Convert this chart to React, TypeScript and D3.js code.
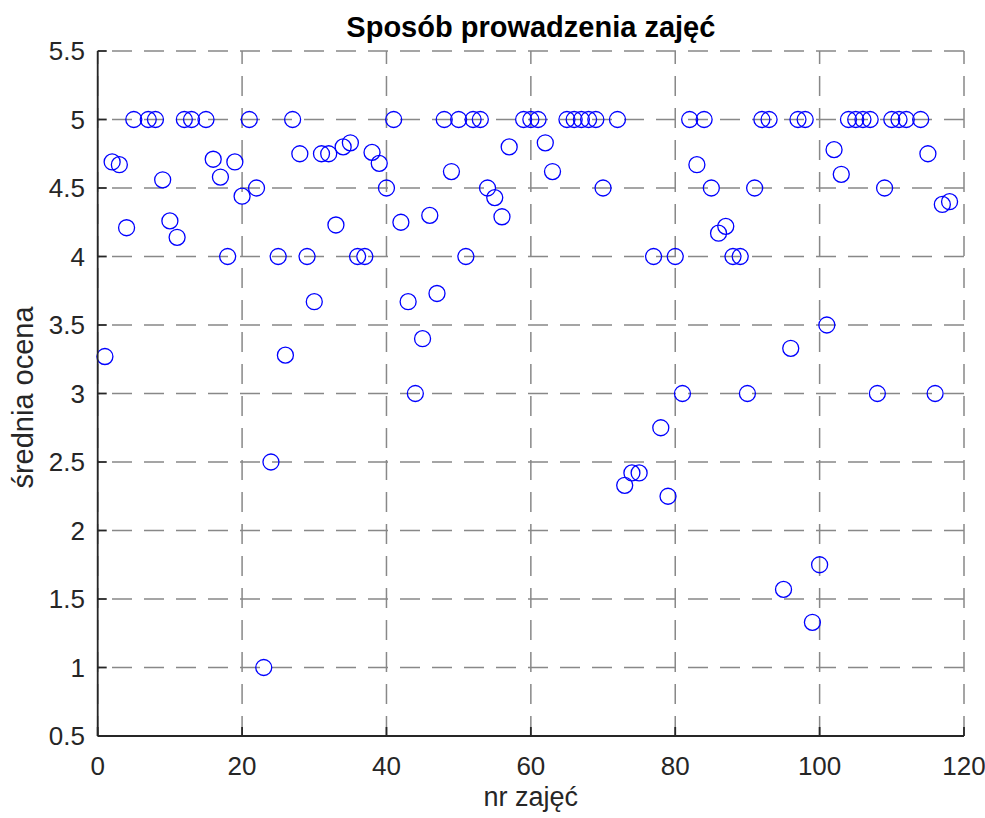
import React from "react";
import * as d3 from "d3";

const lessonNumbers: number[] = [
  1, 2, 3, 4, 5, 7, 8, 9, 10, 11, 12, 13, 15, 16, 17, 18, 19, 20,
  21, 22, 23, 24, 25, 26, 27, 28, 29, 30, 31, 32, 33, 34, 35, 36, 37, 38, 39, 40,
  41, 42, 43, 44, 45, 46, 47, 48, 49, 50, 51, 52, 53, 54, 55, 56, 57, 59, 60,
  61, 62, 63, 65, 66, 67, 68, 69, 70, 72, 73, 74, 75, 77, 78, 79, 80,
  81, 82, 83, 84, 85, 86, 87, 88, 89, 90, 91, 92, 93, 95, 96, 97, 98, 99, 100,
  101, 102, 103, 104, 105, 106, 107, 108, 109, 110, 111, 112, 114, 115, 116, 117, 118,
];

const averageScores: number[] = [
  3.27, 4.69, 4.67, 4.21, 5, 5, 5, 4.56, 4.26, 4.14, 5, 5, 5, 4.71, 4.58, 4.0, 4.69, 4.44,
  5, 4.5, 1.0, 2.5, 4.0, 3.28, 5, 4.75, 4.0, 3.67, 4.75, 4.75, 4.23, 4.8, 4.83, 4.0, 4.0, 4.76, 4.68, 4.5,
  5, 4.25, 3.67, 3.0, 3.4, 4.3, 3.73, 5, 4.62, 5, 4.0, 5, 5, 4.5, 4.43, 4.29, 4.8, 5, 5,
  5, 4.83, 4.62, 5, 5, 5, 5, 5, 4.5, 5, 2.33, 2.42, 2.42, 4.0, 2.75, 2.25, 4.0,
  3.0, 5, 4.67, 5, 4.5, 4.17, 4.22, 4.0, 4.0, 3.0, 4.5, 5, 5, 1.57, 3.33, 5, 5, 1.33, 1.75,
  3.5, 4.78, 4.6, 5, 5, 5, 5, 3.0, 4.5, 5, 5, 5, 5, 4.75, 3.0, 4.38, 4.4,
];

const xTicks: number[] = [0, 20, 40, 60, 80, 100, 120];
const yTicks: number[] = [0.5, 1, 1.5, 2, 2.5, 3, 3.5, 4, 4.5, 5, 5.5];

const titleText = "Sposób prowadzenia zajęć";
const xLabel = "nr zajęć";
const yLabel = "średnia ocena";

const W = 985;
const H = 818;
const left = 97.7;
const right = 964;
const top = 51;
const bottom = 736;

export default function App() {
  const x = d3.scaleLinear().domain([0, 120]).range([left, right]);
  const y = d3.scaleLinear().domain([0.5, 5.5]).range([bottom, top]);
  const axisColor = "#262626";
  const gridColor = "#888888";
  const font = "'Liberation Sans', Arial, Helvetica, sans-serif";
  const fmt = (v: number) => String(v);

  return (
    <svg
      width={W}
      height={H}
      style={{ position: "absolute", left: 0, top: 0, background: "#fff" }}
      fontFamily={font}
    >
      <rect x={0} y={0} width={W} height={H} fill="#fff" />
      {yTicks.map((t) => (
        <line
          key={"gy" + t}
          x1={right}
          x2={left}
          y1={y(t)}
          y2={y(t)}
          stroke={gridColor}
          strokeWidth={1.5}
          strokeDasharray="20 12"
        />
      ))}
      {xTicks.map((t) => (
        <line
          key={"gx" + t}
          x1={x(t)}
          x2={x(t)}
          y1={bottom}
          y2={top}
          stroke={gridColor}
          strokeWidth={1.5}
          strokeDasharray="20 12"
        />
      ))}
      {lessonNumbers.map((n, i) => (
        <circle
          key={"p" + i}
          cx={x(n)}
          cy={y(averageScores[i])}
          r={8}
          fill="none"
          stroke="#0000ff"
          strokeWidth={1.3}
        />
      ))}
      <line x1={left} x2={right} y1={bottom} y2={bottom} stroke={axisColor} strokeWidth={1.8} />
      <line x1={left} x2={left} y1={top} y2={bottom} stroke={axisColor} strokeWidth={1.8} />
      {xTicks.map((t) => (
        <g key={"xt" + t}>
          <line x1={x(t)} x2={x(t)} y1={bottom} y2={bottom - 9} stroke={axisColor} strokeWidth={1.8} />
          <text x={x(t)} y={775} textAnchor="middle" fontSize={26} fill={axisColor}>
            {fmt(t)}
          </text>
        </g>
      ))}
      {yTicks.map((t) => (
        <g key={"yt" + t}>
          <line x1={left} x2={left + 9} y1={y(t)} y2={y(t)} stroke={axisColor} strokeWidth={1.8} />
          <text x={85} y={y(t)} dy="0.35em" textAnchor="end" fontSize={26} fill={axisColor}>
            {fmt(t)}
          </text>
        </g>
      ))}
      <text x={(left + right) / 2} y={37} textAnchor="middle" fontSize={29} fontWeight="bold" fill="#000">
        {titleText}
      </text>
      <text x={(left + right) / 2} y={806} textAnchor="middle" fontSize={27} fill={axisColor}>
        {xLabel}
      </text>
      <text
        transform={`translate(33, ${(top + bottom) / 2 + 4}) rotate(-90)`}
        textAnchor="middle"
        fontSize={29}
        fill={axisColor}
      >
        {yLabel}
      </text>
    </svg>
  );
}
